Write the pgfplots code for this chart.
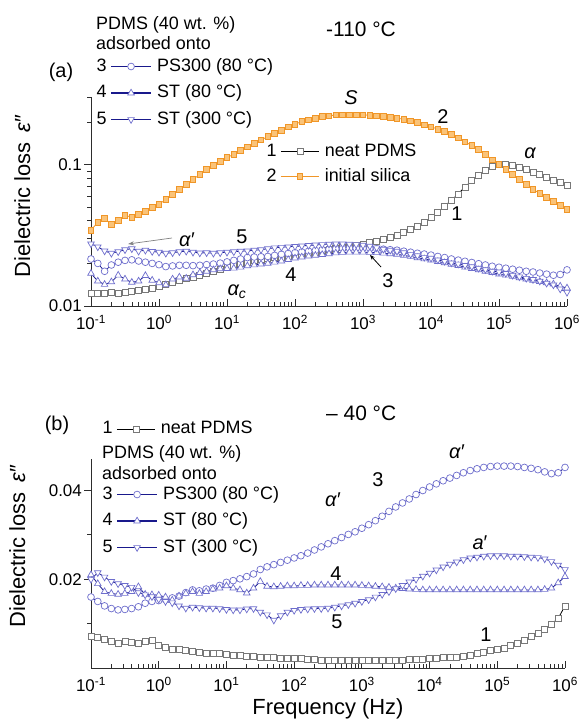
\documentclass[border=0pt]{standalone}
\usepackage{fontspec}
\setmainfont{Liberation Sans}
\usepackage{pgfplots}
\pgfplotsset{compat=1.18}
\usepackage{pgfplotstable}
\usetikzlibrary{arrows.meta}

\definecolor{mblue}{RGB}{110,110,205}
\definecolor{lblue}{RGB}{25,25,140}
\definecolor{mgrey}{RGB}{120,120,120}
\definecolor{ored}{RGB}{240,150,40}
\definecolor{ofill}{RGB}{250,195,120}
\definecolor{axc}{RGB}{45,45,45}

\newcommand\fsz[1]{\fontsize{#1}{#1}\selectfont}

\pgfplotstableread{
f s1 s2 s3 s4 s5
1e-1 0.0122 0.0343 0.0215 0.0170 0.0275
1.259e-1 0.0123 0.0391 0.0200 0.0150 0.0262
1.585e-1 0.0123 0.0417 0.0176 0.0142 0.0245
1.995e-1 0.0124 0.0378 0.0195 0.0148 0.0236
2.512e-1 0.0123 0.0403 0.0204 0.0165 0.0242
3.162e-1 0.0125 0.0438 0.0210 0.0155 0.0250
3.981e-1 0.0126 0.0424 0.0212 0.0147 0.0254
5.012e-1 0.0128 0.0445 0.0208 0.0150 0.0244
6.310e-1 0.0131 0.0467 0.0204 0.0164 0.0248
7.943e-1 0.0134 0.0498 0.0200 0.0152 0.0243
1e0 0.0138 0.0523 0.0196 0.0146 0.0240
1.259e0 0.0142 0.0567 0.0190 0.0141 0.0236
1.585e0 0.0146 0.0615 0.0192 0.0155 0.0238
1.995e0 0.0151 0.0667 0.0194 0.0160 0.0242
2.512e0 0.0156 0.0723 0.0194 0.0157 0.0244
3.162e0 0.0160 0.0784 0.0193 0.0166 0.0240
3.981e0 0.0165 0.0851 0.0194 0.0172 0.0237
5.012e0 0.0170 0.0922 0.0196 0.0176 0.0238
6.310e0 0.0176 0.0984 0.0198 0.0180 0.0236
7.943e0 0.0182 0.1050 0.0201 0.0183 0.0238
1e1 0.0188 0.1120 0.0205 0.0184 0.0240
1.259e1 0.0194 0.1180 0.0210 0.0185 0.0242
1.585e1 0.0199 0.1255 0.0215 0.0188 0.0244
1.995e1 0.0204 0.1330 0.0220 0.0192 0.0245
2.512e1 0.0209 0.1410 0.0222 0.0195 0.0248
3.162e1 0.0213 0.1490 0.0223 0.0198 0.0250
3.981e1 0.0216 0.1575 0.0224 0.0200 0.0254
5.012e1 0.0219 0.1667 0.0228 0.0204 0.0258
6.310e1 0.0222 0.1750 0.0232 0.0208 0.0260
7.943e1 0.0225 0.1850 0.0235 0.0213 0.0262
1e2 0.0228 0.1930 0.0238 0.0218 0.0264
1.259e2 0.0232 0.2010 0.0241 0.0222 0.0266
1.585e2 0.0236 0.2070 0.0244 0.0225 0.0268
1.995e2 0.0241 0.2125 0.0247 0.0228 0.0270
2.512e2 0.0246 0.2180 0.0250 0.0231 0.0272
3.162e2 0.0251 0.2210 0.0252 0.0234 0.0274
3.981e2 0.0256 0.2240 0.0254 0.0237 0.0275
5.012e2 0.0261 0.2250 0.0255 0.0239 0.0275
6.310e2 0.0265 0.2250 0.0256 0.0240 0.0274
7.943e2 0.0269 0.2250 0.0256 0.0240 0.0272
1e3 0.0273 0.2240 0.0256 0.0240 0.0269
1.259e3 0.0280 0.2230 0.0255 0.0239 0.0265
1.585e3 0.0287 0.2210 0.0254 0.0238 0.0258
1.995e3 0.0296 0.2180 0.0252 0.0236 0.0252
2.512e3 0.0306 0.2160 0.0250 0.0234 0.0248
3.162e3 0.0316 0.2125 0.0248 0.0232 0.0244
3.981e3 0.0329 0.2090 0.0244 0.0228 0.0238
5.012e3 0.0346 0.2040 0.0240 0.0224 0.0232
6.310e3 0.0363 0.1980 0.0236 0.0219 0.0227
7.943e3 0.0390 0.1910 0.0233 0.0215 0.0221
1e4 0.0420 0.1850 0.0229 0.0211 0.0218
1.259e4 0.0459 0.1780 0.0224 0.0206 0.0212
1.585e4 0.0510 0.1710 0.0220 0.0202 0.0207
1.995e4 0.0558 0.1630 0.0215 0.0197 0.0202
2.512e4 0.0620 0.1540 0.0211 0.0193 0.0198
3.162e4 0.0694 0.1450 0.0207 0.0188 0.0194
3.981e4 0.0772 0.1360 0.0203 0.0184 0.0190
5.012e4 0.0844 0.1275 0.0199 0.0180 0.0185
6.310e4 0.0915 0.1180 0.0195 0.0176 0.0181
7.943e4 0.0968 0.1080 0.0191 0.0172 0.0176
1e5 0.0995 0.1000 0.0188 0.0168 0.0174
1.259e5 0.1000 0.0925 0.0185 0.0165 0.0170
1.585e5 0.0984 0.0850 0.0182 0.0162 0.0165
1.995e5 0.0960 0.0785 0.0179 0.0158 0.0161
2.512e5 0.0930 0.0725 0.0176 0.0155 0.0157
3.162e5 0.0886 0.0667 0.0174 0.0152 0.0154
3.981e5 0.0851 0.0625 0.0171 0.0149 0.0150
5.012e5 0.0817 0.0586 0.0168 0.0146 0.0145
6.310e5 0.0778 0.0549 0.0165 0.0143 0.0141
7.943e5 0.0747 0.0514 0.0167 0.0138 0.0132
1e6 0.0711 0.0482 0.0180 0.0134 0.0125
}\topdata

\pgfplotstableread{
f s1 s3 s4 s5
1e-1 0.0072 0.0160 0.0210 0.0200
1.259e-1 0.0068 0.0150 0.0190 0.0215
1.585e-1 0.0064 0.0140 0.0172 0.0205
1.995e-1 0.0059 0.0134 0.0168 0.0195
2.512e-1 0.0056 0.0131 0.0166 0.0190
3.162e-1 0.0059 0.0132 0.0168 0.0186
3.981e-1 0.0057 0.0134 0.0172 0.0182
5.012e-1 0.0056 0.0138 0.0183 0.0170
6.310e-1 0.0059 0.0146 0.0166 0.0165
7.943e-1 0.0062 0.0150 0.0165 0.0161
1e0 0.0050 0.0152 0.0164 0.0155
1.259e0 0.0046 0.0154 0.0160 0.0150
1.585e0 0.0042 0.0158 0.0153 0.0147
1.995e0 0.0041 0.0162 0.0162 0.0140
2.512e0 0.0039 0.0170 0.0168 0.0135
3.162e0 0.0037 0.0176 0.0172 0.0137
3.981e0 0.0036 0.0174 0.0168 0.0136
5.012e0 0.0034 0.0178 0.0172 0.0135
6.310e0 0.0033 0.0180 0.0178 0.0135
7.943e0 0.0032 0.0186 0.0180 0.0134
1e1 0.0030 0.0193 0.0185 0.0132
1.259e1 0.0029 0.0197 0.0180 0.0131
1.585e1 0.0028 0.0201 0.0176 0.0131
1.995e1 0.0027 0.0206 0.0169 0.0133
2.512e1 0.0026 0.0212 0.0180 0.0134
3.162e1 0.0025 0.0222 0.0195 0.0126
3.981e1 0.0024 0.0228 0.0184 0.0120
5.012e1 0.0023 0.0233 0.0183 0.0108
6.310e1 0.0022 0.0238 0.0184 0.0118
7.943e1 0.0022 0.0243 0.0185 0.0126
1e2 0.0021 0.0248 0.0185 0.0130
1.259e2 0.0021 0.0253 0.0186 0.0132
1.585e2 0.0020 0.0259 0.0186 0.0133
1.995e2 0.0019 0.0266 0.0187 0.0134
2.512e2 0.0018 0.0273 0.0187 0.0134
3.162e2 0.0018 0.0280 0.0187 0.0135
3.981e2 0.0017 0.0287 0.0187 0.0137
5.012e2 0.0017 0.0294 0.0187 0.0140
6.310e2 0.0017 0.0301 0.0187 0.0143
7.943e2 0.0017 0.0307 0.0187 0.0146
1e3 0.0017 0.0315 0.0186 0.0150
1.259e3 0.0017 0.0323 0.0185 0.0154
1.585e3 0.0017 0.0332 0.0184 0.0160
1.995e3 0.0017 0.0342 0.0183 0.0166
2.512e3 0.0017 0.0353 0.0182 0.0172
3.162e3 0.0018 0.0363 0.0180 0.0179
3.981e3 0.0018 0.0372 0.0179 0.0186
5.012e3 0.0019 0.0381 0.0178 0.0194
6.310e3 0.0019 0.0391 0.0177 0.0200
7.943e3 0.0020 0.0400 0.0176 0.0207
1e4 0.0021 0.0408 0.0176 0.0214
1.259e4 0.0022 0.0415 0.0176 0.0221
1.585e4 0.0023 0.0422 0.0176 0.0228
1.995e4 0.0024 0.0428 0.0176 0.0234
2.512e4 0.0025 0.0434 0.0176 0.0239
3.162e4 0.0027 0.0440 0.0176 0.0244
3.981e4 0.0029 0.0445 0.0176 0.0248
5.012e4 0.0032 0.0449 0.0176 0.0250
6.310e4 0.0036 0.0452 0.0176 0.0252
7.943e4 0.0039 0.0454 0.0176 0.0253
1e5 0.0042 0.0455 0.0176 0.0253
1.259e5 0.0045 0.0455 0.0176 0.0253
1.585e5 0.0050 0.0455 0.0176 0.0252
1.995e5 0.0056 0.0454 0.0176 0.0252
2.512e5 0.0063 0.0452 0.0176 0.0251
3.162e5 0.0071 0.0450 0.0176 0.0250
3.981e5 0.0079 0.0447 0.0176 0.0249
5.012e5 0.0088 0.0442 0.0177 0.0246
6.310e5 0.0099 0.0438 0.0180 0.0240
7.943e5 0.0112 0.0440 0.0192 0.0232
1e6 0.0140 0.0452 0.0206 0.0222
}\botdata

\pgfplotsset{
  every axis/.append style={
    scale only axis, xmode=log, xmin=0.1, xmax=1e6,
    axis line style={draw=none},
    tick pos=left,
    tick style={axc, line width=0.8bp},
    major tick length=7bp, minor tick length=4bp,
    xtick align=inside, ytick align=outside,
    xtick={0.1,1,10,100,1000,10000,100000,1000000},
    xticklabels={10\textsuperscript{-1},10\textsuperscript{0},10\textsuperscript{1},10\textsuperscript{2},10\textsuperscript{3},10\textsuperscript{4},10\textsuperscript{5},10\textsuperscript{6}},
    minor xtick={0.2,0.3,0.4,0.5,0.6,0.7,0.8,0.9,2,3,4,5,6,7,8,9,20,30,40,50,60,70,80,90,200,300,400,500,600,700,800,900,2000,3000,4000,5000,6000,7000,8000,9000,20000,30000,40000,50000,60000,70000,80000,90000,200000,300000,400000,500000,600000,700000,800000,900000},
    xticklabel style={font=\fsz{17}, inner sep=0pt, anchor=north, yshift=-9bp},
    yticklabel style={font=\fsz{17}, inner sep=0pt, anchor=east, xshift=-2bp},
    scaled y ticks=false,
    clip=false,
    legend cell align=left,
    legend style={draw=none, fill=none, font=\fsz{18}, inner sep=0pt, row sep=7bp,
      nodes={inner sep=1.5bp, text height=13bp, text depth=3.5bp},
      /tikz/every odd column/.append style={column sep=4bp}},
  },
  serA/.style={black, line width=0.8bp, mark=square*, mark size=3bp,
    mark options={draw=mgrey, fill=white, line width=0.7bp}},
  serB/.style={ored, line width=0.8bp, mark=square*, mark size=2.8bp,
    mark options={draw=ored, fill=ofill, line width=0.7bp}},
  serC/.style={lblue, line width=0.8bp, mark=*, mark size=3.4bp,
    mark options={draw=mblue, fill=white, line width=0.7bp}},
  serD/.style={lblue, line width=0.8bp, mark=triangle*, mark size=3.8bp,
    mark options={draw=mblue, fill=white, line width=0.7bp}},
  serE/.style={lblue, line width=0.8bp, mark=triangle*, mark size=3.8bp,
    mark options={draw=mblue, fill=white, line width=0.7bp, rotate=180}},
  limgA/.style={legend image code/.code={%
    \node[anchor=east,inner sep=0pt,text=black,font=\fsz{18}] at (-4bp,0bp) {1};%
    \draw[black,line width=0.8bp] (0bp,0bp) -- (38bp,0bp);%
    \draw[mgrey,fill=white,line width=0.7bp] plot[mark=square*,mark size=3bp] coordinates {(19bp,0bp)};}},
  limgB/.style={legend image code/.code={%
    \node[anchor=east,inner sep=0pt,text=black,font=\fsz{18}] at (-4bp,0bp) {2};%
    \draw[ored,line width=0.8bp] (0bp,0bp) -- (38bp,0bp);%
    \draw[ored,fill=ofill,line width=0.7bp] plot[mark=square*,mark size=2.8bp] coordinates {(19bp,0bp)};}},
  limgC/.style={legend image code/.code={%
    \node[anchor=east,inner sep=0pt,text=black,font=\fsz{18}] at (-4bp,0bp) {3};%
    \draw[lblue,line width=1.3bp] (0bp,0bp) -- (40bp,0bp);%
    \draw[mblue,fill=white,line width=0.7bp] plot[mark=*,mark size=3.4bp] coordinates {(20bp,0bp)};}},
  limgD/.style={legend image code/.code={%
    \node[anchor=east,inner sep=0pt,text=black,font=\fsz{18}] at (-4bp,0bp) {4};%
    \draw[lblue,line width=1.3bp] (0bp,0bp) -- (40bp,0bp);%
    \draw[mblue,fill=white,line width=0.7bp] plot[mark=triangle*,mark size=3.8bp] coordinates {(20bp,0bp)};}},
  limgE/.style={legend image code/.code={%
    \node[anchor=east,inner sep=0pt,text=black,font=\fsz{18}] at (-4bp,0bp) {5};%
    \draw[lblue,line width=1.3bp] (0bp,0bp) -- (40bp,0bp);%
    \draw[mblue,fill=white,line width=0.7bp] plot[mark=triangle*,mark size=3.8bp,mark options={rotate=180}] coordinates {(20bp,0bp)};}},
}

\begin{document}
\begin{tikzpicture}
\begin{scope}[x=1bp,y=-1bp]
\useasboundingbox (0,0) rectangle (582,720);
\end{scope}

% ---------- panel (a) ----------
\begin{axis}[at={(91bp,-306bp)}, anchor=south west, width=476bp, height=209bp,
  ymode=log, ymin=0.01, ymax=0.3, ytick={0.01,0.1}, yticklabels={0.01,0.1},
  minor ytick={0.02,0.03,0.04,0.05,0.06,0.07,0.08,0.09,0.2,0.3},
  legend style={at={(0.01155,1.0191)}, anchor=west}]
\draw[axc, line width=0.9bp] (rel axis cs:0,1) -- (rel axis cs:0,0) -- (rel axis cs:1,0);
\addplot[serA, forget plot] table[x=f,y=s1]{\topdata};
\addplot[serC, limgC] table[x=f,y=s3]{\topdata};
\addlegendentry{PS300 (80 °C)}
\addplot[serD, limgD] table[x=f,y=s4]{\topdata};
\addlegendentry{ST (80 °C)}
\addplot[serE, limgE] table[x=f,y=s5]{\topdata};
\addlegendentry{ST (300 °C)}
\addplot[serB, forget plot] table[x=f,y=s2]{\topdata};
\end{axis}

\begin{axis}[hide axis, at={(91bp,-306bp)}, anchor=south west, width=476bp, height=209bp,
  ymode=log, ymin=0.01, ymax=0.3,
  legend style={at={(0.3687,0.6794)}, anchor=west, row sep=5bp}]
\addlegendimage{limgA}
\addlegendentry{neat PDMS}
\addlegendimage{limgB}
\addlegendentry{initial silica}
\addplot[draw=none, forget plot] coordinates {(1,0.05)};
\end{axis}

% ---------- panel (b) ----------
\begin{axis}[at={(91bp,-668bp)}, anchor=south west, width=474bp, height=209bp,
  ymin=0, ymax=0.0471, ytick={0.02,0.04}, yticklabels={0.02,0.04},
  minor ytick={0.01,0.03},
  legend style={at={(0.0243,0.7033)}, anchor=west}]
\draw[axc, line width=0.9bp] (rel axis cs:0,1) -- (rel axis cs:0,0) -- (rel axis cs:1,0);
\addplot[serA, forget plot] table[x=f,y=s1]{\botdata};
\addplot[serC, limgC] table[x=f,y=s3]{\botdata};
\addlegendentry{PS300 (80 °C)}
\addplot[serD, limgD] table[x=f,y=s4]{\botdata};
\addlegendentry{ST (80 °C)}
\addplot[serE, limgE] table[x=f,y=s5]{\botdata};
\addlegendentry{ST (300 °C)}
\end{axis}

\begin{axis}[hide axis, at={(91bp,-668bp)}, anchor=south west, width=474bp, height=209bp,
  ymin=0, ymax=0.0471,
  legend style={at={(0.0243,1.1435)}, anchor=west}]
\addlegendimage{limgA}
\addlegendentry{neat PDMS}
\addplot[draw=none, forget plot] coordinates {(1,0.02)};
\end{axis}

% ---------- text ----------
\begin{scope}[x=1bp,y=-1bp, every node/.style={inner sep=0pt}]
\node[anchor=base west, font=\fsz{18}] at (96,30) {PDMS (40 wt. \%)};
\node[anchor=base west, font=\fsz{18}] at (96,50) {adsorbed onto};
\node[font=\fsz{20}] at (61,72) {(a)};
\node[anchor=base west, font=\fsz{21}] at (326,37) {-110 °C};
\node[font=\fsz{20}\itshape] at (351,98) {S};
\node[font=\fsz{20}] at (443,117) {2};
\node[font=\fsz{20}\itshape] at (530,153) {α};
\node[font=\fsz{20}] at (457,214) {1};
\node[font=\fsz{20}] at (388,281) {3};
\draw[-{Stealth[length=5bp,width=4bp]}, line width=0.8bp] (381,267) -- (370,255);
\node[font=\fsz{20}] at (291,275) {4};
\node[font=\fsz{20}] at (242,237) {5};
\node[font=\fsz{20}] at (187,240) {\textit{α}′};
\draw[gray, -{Stealth[length=6bp,width=4bp]}, line width=0.7bp] (172,238) -- (128,244);
\node[font=\fsz{20}] at (237,292) {\textit{α\textsubscript{c}}};
\node[rotate=90, anchor=base, font=\fsz{22}] at (30,196) {Dielectric loss \,\textit{ε}″};
\node[font=\fsz{20}] at (57,425) {(b)};
\node[anchor=base west, font=\fsz{21}] at (326,420) {– 40 °C};
\node[anchor=base west, font=\fsz{18}] at (102,458) {PDMS (40 wt. \%)};
\node[anchor=base west, font=\fsz{18}] at (102,479) {adsorbed onto};
\node[font=\fsz{20}] at (457,452) {\textit{α}′};
\node[font=\fsz{20}] at (378,480) {3};
\node[font=\fsz{20}] at (333,500) {\textit{α}′};
\node[font=\fsz{20}] at (480,543) {\textit{a}′};
\node[font=\fsz{20}] at (336,574) {4};
\node[font=\fsz{20}] at (337,622) {5};
\node[font=\fsz{20}] at (486,635) {1};
\node[rotate=90, anchor=base, font=\fsz{22}] at (25,546) {Dielectric loss \,\textit{ε}″};
\node[anchor=base, font=\fsz{22}] at (328,714) {Frequency (Hz)};
\end{scope}
\end{tikzpicture}
\end{document}
